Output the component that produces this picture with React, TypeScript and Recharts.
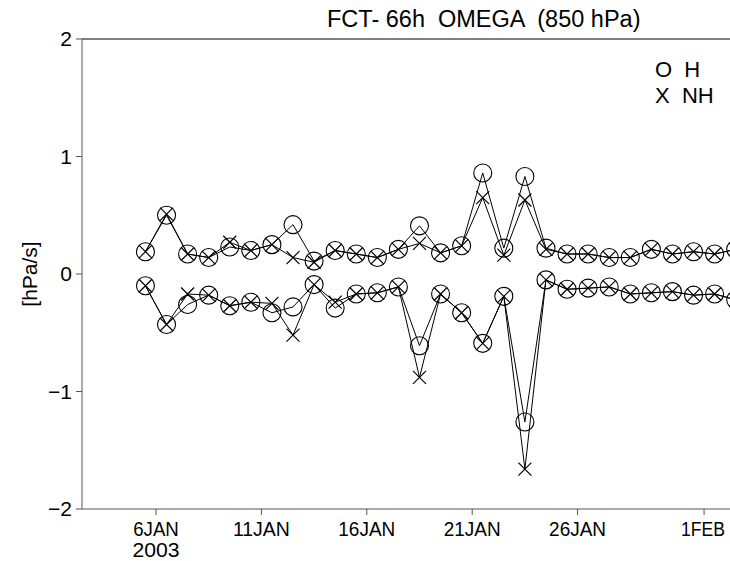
import React from 'react';
import { LineChart, Line, XAxis, YAxis, ReferenceLine } from 'recharts';

// day of January (x.5 = 12Z)
const days = [
  5.5, 6.5, 7.5, 8.5, 9.5, 10.5, 11.5, 12.5, 13.5, 14.5,
  15.5, 16.5, 17.5, 18.5, 19.5, 20.5, 21.5, 22.5, 23.5, 24.5,
  25.5, 26.5, 27.5, 28.5, 29.5, 30.5, 31.5, 32.5, 33.5,
];

const hUpper = [
  0.19, 0.5, 0.17, 0.14, 0.23, 0.2, 0.25, 0.42, 0.11, 0.2,
  0.17, 0.14, 0.21, 0.41, 0.18, 0.24, 0.86, 0.22, 0.83, 0.22,
  0.17, 0.17, 0.14, 0.14, 0.21, 0.17, 0.19, 0.17, 0.21,
];
const nhUpper = [
  0.19, 0.51, 0.17, 0.14, 0.27, 0.2, 0.25, 0.14, 0.1, 0.2,
  0.17, 0.14, 0.21, 0.26, 0.18, 0.24, 0.65, 0.16, 0.63, 0.21,
  0.17, 0.17, 0.14, 0.14, 0.21, 0.17, 0.19, 0.17, 0.21,
];
const hLower = [
  -0.1, -0.43, -0.26, -0.18, -0.27, -0.24, -0.33, -0.28, -0.09, -0.29,
  -0.17, -0.16, -0.11, -0.61, -0.17, -0.33, -0.59, -0.19, -1.26, -0.05,
  -0.13, -0.12, -0.11, -0.17, -0.16, -0.15, -0.18, -0.17, -0.22,
];
const nhLower = [
  -0.1, -0.43, -0.17, -0.18, -0.27, -0.24, -0.25, -0.52, -0.09, -0.24,
  -0.17, -0.16, -0.11, -0.88, -0.17, -0.33, -0.59, -0.19, -1.66, -0.05,
  -0.13, -0.12, -0.11, -0.17, -0.16, -0.15, -0.18, -0.17, -0.22,
];

const xTicks = [6, 11, 16, 21, 26, 32];
const xTickLabels: Record<number, string> = {
  6: '6JAN', 11: '11JAN', 16: '16JAN', 21: '21JAN', 26: '26JAN', 32: '1FEB',
};
const yTicks = [-2, -1, 0, 1, 2];

const rows = days.map((d, i) => ({
  day: d,
  hU: hUpper[i],
  hL: hLower[i],
  nU: nhUpper[i],
  nL: nhLower[i],
}));

const FONT = '"Liberation Sans", Arial, sans-serif';

const CircleDot = (props: any) => {
  const { cx, cy, index } = props;
  if (cx == null || cy == null) return <g key={index} />;
  return <circle key={index} cx={cx} cy={cy} r={9} fill="none" stroke="#000" strokeWidth={1.1} />;
};

const CrossDot = (props: any) => {
  const { cx, cy, index } = props;
  if (cx == null || cy == null) return <g key={index} />;
  const s = 6.5;
  return (
    <path
      key={index}
      d={`M${cx - s},${cy - s}L${cx + s},${cy + s}M${cx - s},${cy + s}L${cx + s},${cy - s}`}
      stroke="#000"
      strokeWidth={1.2}
      fill="none"
    />
  );
};

const XTick = (props: any) => {
  const { x, y, payload } = props;
  const label = xTickLabels[payload.value] ?? '';
  const isLast = payload.value === 32;
  return (
    <g>
      <text
        x={isLast ? x - 1 : x}
        y={y + 19}
        textAnchor="middle"
        fontFamily={FONT}
        fontSize={20}
        fill="#000"
        textLength={isLast ? 44 : label.length * 11.4}
        lengthAdjust="spacingAndGlyphs"
      >
        {label}
      </text>
      {payload.value === 6 && (
        <text
          x={x}
          y={y + 40}
          textAnchor="middle"
          fontFamily={FONT}
          fontSize={20}
          fill="#000"
          textLength={47}
          lengthAdjust="spacingAndGlyphs"
        >
          2003
        </text>
      )}
    </g>
  );
};

const fmtY = (v: number) => (v < 0 ? `\u2212${Math.abs(v)}` : `${v}`);

export default function App() {
  return (
    <div
      style={{
        position: 'absolute',
        left: 0,
        top: 0,
        width: 730,
        height: 561,
        overflow: 'hidden',
        background: '#fff',
      }}
    >
      <LineChart width={730} height={561} data={rows} margin={{ top: 39, right: 0, bottom: 0, left: 0 }}>
        <XAxis
          dataKey="day"
          type="number"
          domain={[2.49, 33.23]}
          allowDataOverflow
          ticks={xTicks}
          interval={0}
          height={52}
          tickSize={6}
          stroke="#555"
          tick={<XTick />}
        />
        <YAxis
          type="number"
          domain={[-2, 2]}
          ticks={yTicks}
          width={82}
          tickSize={6}
          tickMargin={4}
          stroke="#555"
          tickFormatter={fmtY}
          tick={{ fill: '#000', fontSize: 21, fontFamily: FONT }}
          label={{
            value: '[hPa/s]',
            angle: -90,
            position: 'insideLeft',
            offset: 30,
            style: { fill: '#000', fontSize: 21, fontFamily: FONT, textAnchor: 'middle' },
          }}
        />
        <ReferenceLine y={2} stroke="#000" strokeWidth={1} />
        <Line dataKey="nU" type="linear" stroke="#000" strokeWidth={1} dot={CrossDot} activeDot={false} isAnimationActive={false} />
        <Line dataKey="nL" type="linear" stroke="#000" strokeWidth={1} dot={CrossDot} activeDot={false} isAnimationActive={false} />
        <Line dataKey="hU" type="linear" stroke="#000" strokeWidth={1} dot={CircleDot} activeDot={false} isAnimationActive={false} />
        <Line dataKey="hL" type="linear" stroke="#000" strokeWidth={1} dot={CircleDot} activeDot={false} isAnimationActive={false} />
      </LineChart>
      <div
        style={{
          position: 'absolute',
          left: 327,
          top: 6,
          fontFamily: FONT,
          fontSize: 23.5,
          whiteSpace: 'pre',
          color: '#000',
        }}
      >
        FCT- 66h  OMEGA  (850 hPa)
      </div>
      <div
        style={{
          position: 'absolute',
          left: 655,
          top: 57,
          fontFamily: FONT,
          fontSize: 22,
          lineHeight: '26px',
          whiteSpace: 'pre',
          color: '#000',
        }}
      >
        {'O  H\nX  NH'}
      </div>
    </div>
  );
}
